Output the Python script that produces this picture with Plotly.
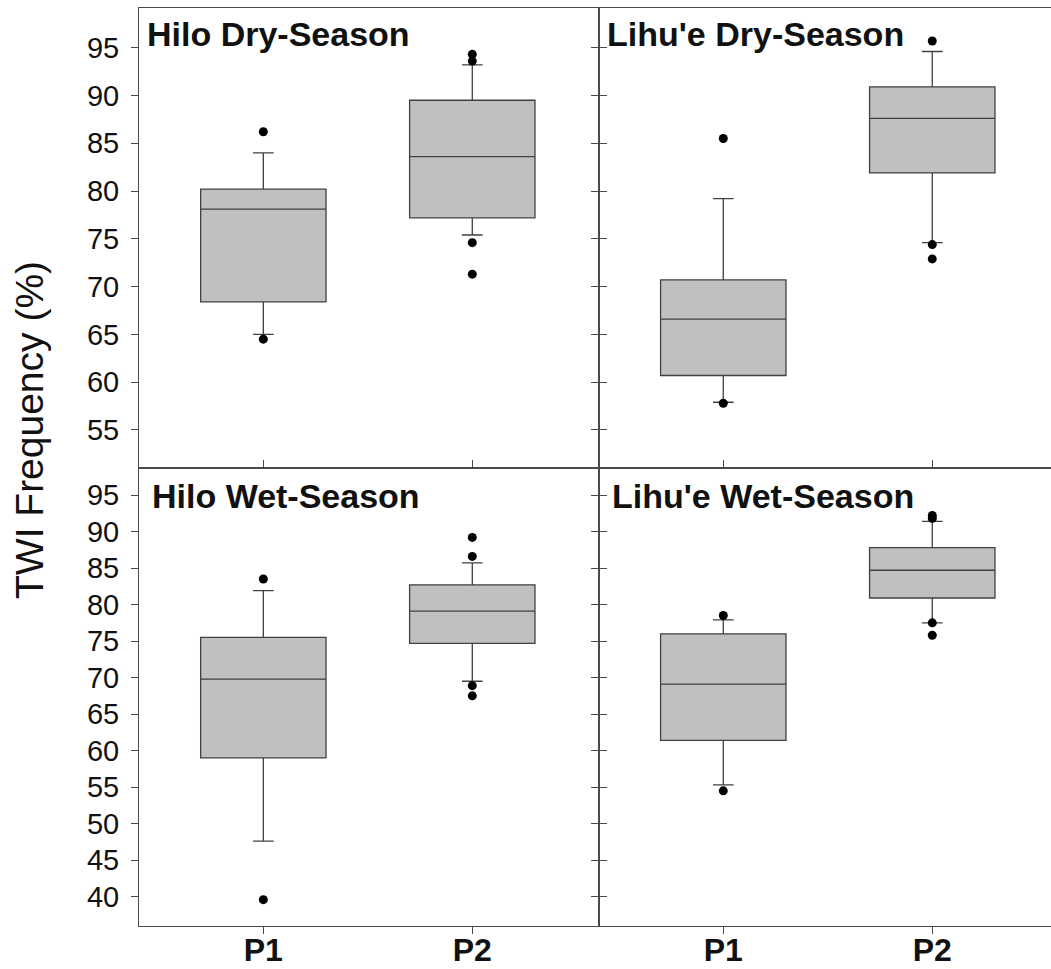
import plotly.graph_objects as go

W, H = 1051, 969

categories = ["P1", "P2"]
y_tick_vals_top = [55, 60, 65, 70, 75, 80, 85, 90, 95]
y_tick_vals_bot = [40, 45, 50, 55, 60, 65, 70, 75, 80, 85, 90, 95]

panel_titles = ["Hilo Dry-Season", "Lihu'e Dry-Season", "Hilo Wet-Season", "Lihu'e Wet-Season"]

# box statistics per panel: [P1, P2]
hilo_dry_lower = [65.0, 75.4]
hilo_dry_q1 = [68.4, 77.2]
hilo_dry_median = [78.1, 83.6]
hilo_dry_q3 = [80.2, 89.5]
hilo_dry_upper = [84.0, 93.2]
hilo_dry_out_p1 = [86.2, 64.5]
hilo_dry_out_p2 = [94.3, 93.6, 74.6, 71.3]

lihue_dry_lower = [57.9, 74.6]
lihue_dry_q1 = [60.7, 81.9]
lihue_dry_median = [66.6, 87.6]
lihue_dry_q3 = [70.7, 90.9]
lihue_dry_upper = [79.2, 94.6]
lihue_dry_out_p1 = [85.5, 57.8]
lihue_dry_out_p2 = [95.7, 74.4, 72.9]

hilo_wet_lower = [47.6, 69.5]
hilo_wet_q1 = [59.0, 74.7]
hilo_wet_median = [69.8, 79.1]
hilo_wet_q3 = [75.5, 82.7]
hilo_wet_upper = [81.9, 85.7]
hilo_wet_out_p1 = [83.5, 39.6]
hilo_wet_out_p2 = [89.2, 86.6, 68.9, 67.5]

lihue_wet_lower = [55.3, 77.5]
lihue_wet_q1 = [61.4, 80.9]
lihue_wet_median = [69.1, 84.7]
lihue_wet_q3 = [76.0, 87.8]
lihue_wet_upper = [77.9, 91.4]
lihue_wet_out_p1 = [78.5, 54.5]
lihue_wet_out_p2 = [92.2, 91.8, 77.5, 75.8]

panels = [
    (hilo_dry_lower, hilo_dry_q1, hilo_dry_median, hilo_dry_q3, hilo_dry_upper, hilo_dry_out_p1, hilo_dry_out_p2),
    (lihue_dry_lower, lihue_dry_q1, lihue_dry_median, lihue_dry_q3, lihue_dry_upper, lihue_dry_out_p1, lihue_dry_out_p2),
    (hilo_wet_lower, hilo_wet_q1, hilo_wet_median, hilo_wet_q3, hilo_wet_upper, hilo_wet_out_p1, hilo_wet_out_p2),
    (lihue_wet_lower, lihue_wet_q1, lihue_wet_median, lihue_wet_q3, lihue_wet_upper, lihue_wet_out_p1, lihue_wet_out_p2),
]

FONT = "Liberation Sans, Arial, sans-serif"
LINE = "#4a4a4a"
BOXLINE = "#404040"

fig = go.Figure()
axis_ids = [("x", "y"), ("x2", "y2"), ("x3", "y3"), ("x4", "y4")]
for (lo, q1, med, q3, up, o1, o2), (xa, ya) in zip(panels, axis_ids):
    fig.add_trace(go.Box(
        x=categories, q1=q1, median=med, q3=q3, lowerfence=lo, upperfence=up,
        xaxis=xa, yaxis=ya, width=0.6, whiskerwidth=0.165,
        fillcolor="#c0c0c0", line=dict(color=BOXLINE, width=1.3),
        boxpoints=False, showlegend=False, hoverinfo="skip",
    ))
    fig.add_trace(go.Scatter(
        x=[categories[0]] * len(o1) + [categories[1]] * len(o2), y=o1 + o2,
        xaxis=xa, yaxis=ya, mode="markers",
        marker=dict(color="black", size=9), showlegend=False, hoverinfo="skip",
    ))

xl = [139 / W, 598.5 / W]
xr = [598.5 / W, 1.0]
yt = [1 - 468.3 / H, 1 - 8.3 / H]
yb = [1 - 926 / H, 1 - 468.3 / H]

base_x = dict(type="category", categoryorder="array", categoryarray=categories, automargin=False,
              showline=True, linecolor=LINE, linewidth=1, showgrid=False, zeroline=False)
base_y = dict(showline=True, linecolor=LINE, linewidth=1, showgrid=False, zeroline=False,
              automargin=False, ticks="outside", ticklen=7, tickcolor=LINE, tickwidth=1)

ytick_font = dict(family=FONT, size=29, color="#111")
xtick_font = dict(family=FONT, size=32, color="#111", weight="bold")

R_TOP = [50.99, 99.12]
R_BOT = [35.99, 98.66]
RX_L = [-0.595, 1.604]
RX_R = [-0.597, 1.568]

fig.update_layout(
    width=W, height=H,
    margin=dict(l=0, r=0, t=0, b=0),
    paper_bgcolor="white", plot_bgcolor="white",
    xaxis=dict(base_x, domain=xl, range=RX_L, mirror=True, anchor="y",
               ticks="", showticklabels=False),
    yaxis=dict(base_y, domain=yt, range=R_TOP, anchor="x", mirror="ticks",
               tickvals=y_tick_vals_top, tickfont=ytick_font, ticklabelstandoff=6),
    xaxis2=dict(base_x, domain=xr, range=RX_R, mirror=True, anchor="y2",
                ticks="", showticklabels=False),
    yaxis2=dict(base_y, domain=yt, range=R_TOP, anchor="x2", mirror=False,
                tickvals=y_tick_vals_top, showticklabels=False),
    xaxis3=dict(base_x, domain=xl, range=RX_L, mirror="ticks", anchor="y3",
                ticks="outside", ticklen=7, tickcolor=LINE, tickwidth=1,
                tickfont=xtick_font, ticklabelstandoff=-11),
    yaxis3=dict(base_y, domain=yb, range=R_BOT, anchor="x3", mirror="ticks",
                tickvals=y_tick_vals_bot, tickfont=ytick_font, ticklabelstandoff=6),
    xaxis4=dict(base_x, domain=xr, range=RX_R, mirror="ticks", anchor="y4",
                ticks="outside", ticklen=7, tickcolor=LINE, tickwidth=1,
                tickfont=xtick_font, ticklabelstandoff=-11),
    yaxis4=dict(base_y, domain=yb, range=R_BOT, anchor="x4", mirror=False,
                tickvals=y_tick_vals_bot, showticklabels=False),
)

title_pos = [(145, 34), (605, 34), (150, 496), (610, 496)]
for t, (px, py) in zip(panel_titles, title_pos):
    fig.add_annotation(text=t, xref="paper", yref="paper", x=px / W, y=1 - py / H,
                       xanchor="left", yanchor="middle", showarrow=False,
                       font=dict(family=FONT, size=34, color="#111", weight="bold"))

fig.add_annotation(text="TWI Frequency (%)", xref="paper", yref="paper",
                   x=30 / W, y=1 - 430 / H, xanchor="center", yanchor="middle",
                   textangle=-90, showarrow=False,
                   font=dict(family=FONT, size=39, color="#111"))

fig.write_html("out.html")
